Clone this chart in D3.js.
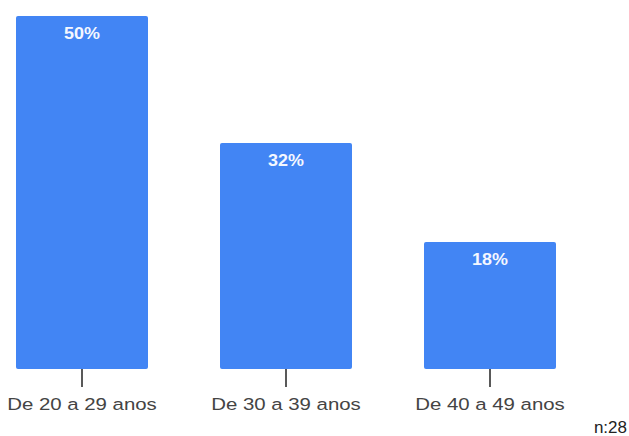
<!DOCTYPE html>
<html>
<head>
<meta charset="utf-8">
<script src="https://cdn.jsdelivr.net/npm/d3@7"></script>
<style>
  html, body { margin: 0; padding: 0; background: #fff; }
  svg { display: block; }
</style>
</head>
<body>
<svg id="chart" width="629" height="436"></svg>
<script>
// Age groups and their share of respondents (%)
const categories = ["De 20 a 29 anos", "De 30 a 39 anos", "De 40 a 49 anos"];
const values = [50, 32, 18];
const sampleNote = "n:28";

const svg = d3.select("#chart");
const font = "'Liberation Sans', Arial, sans-serif";

const x = d3.scaleBand()
  .domain(categories)
  .range([-20, 592])
  .paddingInner(72 / 204)
  .paddingOuter(36 / 204);

const baseY = 369;
const y = d3.scaleLinear().domain([0, 50]).range([baseY, 16]);

// Bars
svg.append("g").selectAll("rect")
  .data(values)
  .join("rect")
  .attr("x", (d, i) => x(categories[i]))
  .attr("y", d => y(d))
  .attr("width", x.bandwidth())
  .attr("height", d => baseY - y(d))
  .attr("rx", 2)
  .attr("fill", "#4285F4");

// Value labels inside bars (slightly wide lettering)
svg.append("g").selectAll("g")
  .data(values)
  .join("g")
  .attr("transform", (d, i) => `translate(${x(categories[i]) + x.bandwidth() / 2},${y(d) + 23}) scale(1.12,1)`)
  .append("text")
  .attr("text-anchor", "middle")
  .attr("font-family", font)
  .attr("font-weight", "bold")
  .attr("font-size", 16)
  .attr("fill", "#f4f7ff")
  .text(d => d + "%");

// Category axis
const axis = d3.axisBottom(x).tickSize(18).tickPadding(11);
const gx = svg.append("g")
  .attr("transform", `translate(0,${baseY})`)
  .call(axis);
gx.select(".domain").remove();
gx.selectAll(".tick line").attr("stroke", "#222").attr("stroke-width", 1.5);
gx.selectAll(".tick text")
  .attr("font-family", font)
  .attr("font-size", 17)
  .attr("fill", "#444")
  .attr("transform", "scale(1.2,1)");

// Sample size note
svg.append("text")
  .attr("x", 627)
  .attr("y", 433)
  .attr("text-anchor", "end")
  .attr("font-family", font)
  .attr("font-size", 17)
  .attr("fill", "#222")
  .text(sampleNote);
</script>
</body>
</html>
